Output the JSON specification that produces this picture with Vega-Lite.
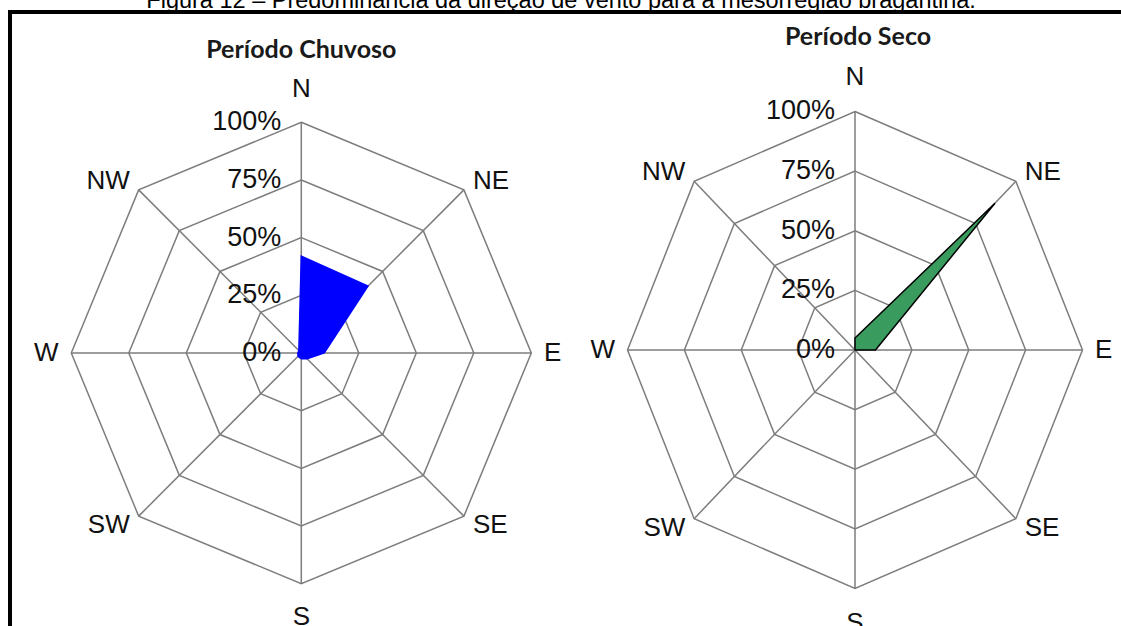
{
  "$schema": "https://vega.github.io/schema/vega-lite/v6.json",
  "width": 1111,
  "height": 614,
  "autosize": {"type": "none"},
  "padding": {"left": 10, "top": 12, "right": 0, "bottom": 0},
  "background": "white",
  "config": {"view": {"stroke": null}},
  "datasets": {
    "wind": [
      {"chart": "Chuvoso", "dir": "N", "i": 0, "pct": 42},
      {"chart": "Chuvoso", "dir": "NE", "i": 1, "pct": 41},
      {"chart": "Chuvoso", "dir": "E", "i": 2, "pct": 10},
      {"chart": "Chuvoso", "dir": "SE", "i": 3, "pct": 3.6},
      {"chart": "Chuvoso", "dir": "S", "i": 4, "pct": 2.5},
      {"chart": "Chuvoso", "dir": "SW", "i": 5, "pct": 2},
      {"chart": "Chuvoso", "dir": "W", "i": 6, "pct": 1.5},
      {"chart": "Chuvoso", "dir": "NW", "i": 7, "pct": 1.5},
      {"chart": "Seco", "dir": "N", "i": 0, "pct": 5},
      {"chart": "Seco", "dir": "NE", "i": 1, "pct": 87},
      {"chart": "Seco", "dir": "E", "i": 2, "pct": 9},
      {"chart": "Seco", "dir": "SE", "i": 3, "pct": 0},
      {"chart": "Seco", "dir": "S", "i": 4, "pct": 0},
      {"chart": "Seco", "dir": "SW", "i": 5, "pct": 0},
      {"chart": "Seco", "dir": "W", "i": 6, "pct": 0},
      {"chart": "Seco", "dir": "NW", "i": 7, "pct": 0}
    ],
    "rings": [
      {"chart": "Chuvoso", "ring": 25, "i": [0, 1, 2, 3, 4, 5, 6, 7]},
      {"chart": "Chuvoso", "ring": 50, "i": [0, 1, 2, 3, 4, 5, 6, 7]},
      {"chart": "Chuvoso", "ring": 75, "i": [0, 1, 2, 3, 4, 5, 6, 7]},
      {"chart": "Chuvoso", "ring": 100, "i": [0, 1, 2, 3, 4, 5, 6, 7]},
      {"chart": "Seco", "ring": 25, "i": [0, 1, 2, 3, 4, 5, 6, 7]},
      {"chart": "Seco", "ring": 50, "i": [0, 1, 2, 3, 4, 5, 6, 7]},
      {"chart": "Seco", "ring": 75, "i": [0, 1, 2, 3, 4, 5, 6, 7]},
      {"chart": "Seco", "ring": 100, "i": [0, 1, 2, 3, 4, 5, 6, 7]}
    ],
    "ticks": [
      {"chart": "Chuvoso", "ring": 0, "label": "0%"},
      {"chart": "Chuvoso", "ring": 25, "label": "25%"},
      {"chart": "Chuvoso", "ring": 50, "label": "50%"},
      {"chart": "Chuvoso", "ring": 75, "label": "75%"},
      {"chart": "Chuvoso", "ring": 100, "label": "100%"},
      {"chart": "Seco", "ring": 0, "label": "0%"},
      {"chart": "Seco", "ring": 25, "label": "25%"},
      {"chart": "Seco", "ring": 50, "label": "50%"},
      {"chart": "Seco", "ring": 75, "label": "75%"},
      {"chart": "Seco", "ring": 100, "label": "100%"}
    ],
    "titles": [
      {"chart": "Chuvoso", "title": "Período Chuvoso"},
      {"chart": "Seco", "title": "Período Seco"}
    ],
    "figure": [
      {"title": "Figura 12 – Predominância da direção de vento para a mesorregião bragantina."}
    ]
  },
  "encoding": {
    "x": {"field": "x", "type": "quantitative", "scale": {"domain": [0, 483.04], "nice": false, "zero": false}, "axis": null},
    "y": {"field": "y", "type": "quantitative", "scale": {"domain": [0, 266.96], "nice": false, "zero": false}, "axis": null}
  },
  "layer": [
    {
      "data": {"name": "rings"},
      "transform": [
        {"flatten": ["i"]},
        {"calculate": "datum.chart == 'Seco' ? 367.39 : 126.65", "as": "cx"},
        {"calculate": "datum.chart == 'Seco' ? 120.0 : 118.7", "as": "cy"},
        {"calculate": "datum.chart == 'Seco' ? 0.989 : 1.0", "as": "sx"},
        {"calculate": "datum.chart == 'Seco' ? 1.037 : 1.003", "as": "sy"},
        {"calculate": "datum.i * PI / 4", "as": "t"},
        {"calculate": "datum.cx + datum.ring * datum.sx * sin(datum.t)", "as": "x"},
        {"calculate": "datum.cy + datum.ring * datum.sy * cos(datum.t)", "as": "y"}
      ],
      "mark": {"type": "line", "interpolate": "linear-closed", "stroke": "#7d7d7d", "strokeWidth": 1.5},
      "encoding": {
        "detail": [{"field": "chart"}, {"field": "ring"}],
        "order": {"field": "i", "type": "quantitative"}
      }
    },
    {
      "data": {"name": "wind"},
      "transform": [
        {"calculate": "datum.chart == 'Seco' ? 367.39 : 126.65", "as": "cx"},
        {"calculate": "datum.chart == 'Seco' ? 120.0 : 118.7", "as": "cy"},
        {"calculate": "datum.chart == 'Seco' ? 0.989 : 1.0", "as": "sx"},
        {"calculate": "datum.chart == 'Seco' ? 1.037 : 1.003", "as": "sy"},
        {"calculate": "datum.i * PI / 4", "as": "t"},
        {"calculate": "datum.cx + 100 * datum.sx * sin(datum.t)", "as": "x"},
        {"calculate": "datum.cy + 100 * datum.sy * cos(datum.t)", "as": "y"}
      ],
      "mark": {"type": "rule", "stroke": "#7d7d7d", "strokeWidth": 1.5},
      "encoding": {
        "x": {"field": "cx", "type": "quantitative"},
        "y": {"field": "cy", "type": "quantitative"},
        "x2": {"field": "x"},
        "y2": {"field": "y"}
      }
    },
    {
      "data": {"name": "wind"},
      "transform": [
        {"filter": "datum.chart == 'Chuvoso'"},
        {"calculate": "126.65", "as": "cx"},
        {"calculate": "118.7", "as": "cy"},
        {"calculate": "datum.i * PI / 4", "as": "t"},
        {"calculate": "datum.cx + datum.pct * 1.0 * sin(datum.t)", "as": "x"},
        {"calculate": "datum.cy + datum.pct * 1.003 * cos(datum.t)", "as": "y"}
      ],
      "mark": {"type": "line", "interpolate": "linear-closed", "fill": "#0000ff", "fillOpacity": 1, "stroke": "#0000ff", "strokeWidth": 1.5},
      "encoding": {
        "order": {"field": "i", "type": "quantitative"}
      }
    },
    {
      "data": {"name": "wind"},
      "transform": [
        {"filter": "datum.chart == 'Seco'"},
        {"calculate": "367.39", "as": "cx"},
        {"calculate": "120.0", "as": "cy"},
        {"calculate": "datum.i * PI / 4", "as": "t"},
        {"calculate": "datum.cx + datum.pct * 0.989 * sin(datum.t)", "as": "x"},
        {"calculate": "datum.cy + datum.pct * 1.037 * cos(datum.t)", "as": "y"}
      ],
      "mark": {"type": "line", "interpolate": "linear-closed", "fill": "#3a9b5f", "fillOpacity": 1, "stroke": "#000000", "strokeWidth": 1.5},
      "encoding": {
        "order": {"field": "i", "type": "quantitative"}
      }
    },
    {
      "data": {"name": "ticks"},
      "transform": [
        {"calculate": "datum.chart == 'Seco' ? 367.39 : 126.65", "as": "cx"},
        {"calculate": "datum.chart == 'Seco' ? 120.0 : 118.7", "as": "cy"},
        {"calculate": "datum.chart == 'Seco' ? 1.037 : 1.003", "as": "sy"},
        {"calculate": "datum.cx", "as": "x"},
        {"calculate": "datum.cy + datum.ring * datum.sy", "as": "y"}
      ],
      "mark": {"type": "text", "align": "right", "baseline": "middle", "dx": -20, "font": "Liberation Sans", "fontSize": 27, "color": "#111111"},
      "encoding": {"text": {"field": "label"}}
    },
    {
      "data": {"name": "wind"},
      "transform": [
        {"filter": "datum.i == 0 || datum.i == 4"},
        {"calculate": "datum.chart == 'Seco' ? 367.39 : 126.65", "as": "cx"},
        {"calculate": "datum.chart == 'Seco' ? 120.0 : 118.7", "as": "cy"},
        {"calculate": "datum.chart == 'Seco' ? 0.989 : 1.0", "as": "sx"},
        {"calculate": "datum.chart == 'Seco' ? 1.037 : 1.003", "as": "sy"},
        {"calculate": "datum.i * PI / 4", "as": "t"},
        {"calculate": "datum.cx + 114.5 * datum.sx * sin(datum.t)", "as": "x"},
        {"calculate": "datum.cy + 114.5 * datum.sy * cos(datum.t)", "as": "y"}
      ],
      "mark": {"type": "text", "align": "center", "baseline": "middle", "font": "Liberation Sans", "fontSize": 26, "color": "#111111"},
      "encoding": {"text": {"field": "dir"}}
    },
    {
      "data": {"name": "wind"},
      "transform": [
        {"filter": "datum.i >= 1 && datum.i <= 3"},
        {"calculate": "datum.chart == 'Seco' ? 367.39 : 126.65", "as": "cx"},
        {"calculate": "datum.chart == 'Seco' ? 120.0 : 118.7", "as": "cy"},
        {"calculate": "datum.chart == 'Seco' ? 0.989 : 1.0", "as": "sx"},
        {"calculate": "datum.chart == 'Seco' ? 1.037 : 1.003", "as": "sy"},
        {"calculate": "datum.i * PI / 4", "as": "t"},
        {"calculate": "datum.cx + 105.5 * datum.sx * sin(datum.t)", "as": "x"},
        {"calculate": "datum.cy + 105.5 * datum.sy * cos(datum.t)", "as": "y"}
      ],
      "mark": {"type": "text", "align": "left", "baseline": "middle", "font": "Liberation Sans", "fontSize": 26, "color": "#111111"},
      "encoding": {"text": {"field": "dir"}}
    },
    {
      "data": {"name": "wind"},
      "transform": [
        {"filter": "datum.i >= 5"},
        {"calculate": "datum.chart == 'Seco' ? 367.39 : 126.65", "as": "cx"},
        {"calculate": "datum.chart == 'Seco' ? 120.0 : 118.7", "as": "cy"},
        {"calculate": "datum.chart == 'Seco' ? 0.989 : 1.0", "as": "sx"},
        {"calculate": "datum.chart == 'Seco' ? 1.037 : 1.003", "as": "sy"},
        {"calculate": "datum.i * PI / 4", "as": "t"},
        {"calculate": "datum.cx + 105.5 * datum.sx * sin(datum.t)", "as": "x"},
        {"calculate": "datum.cy + 105.5 * datum.sy * cos(datum.t)", "as": "y"}
      ],
      "mark": {"type": "text", "align": "right", "baseline": "middle", "font": "Liberation Sans", "fontSize": 26, "color": "#111111"},
      "encoding": {"text": {"field": "dir"}}
    },
    {
      "data": {"name": "titles"},
      "transform": [
        {"calculate": "datum.chart == 'Seco' ? 368.7 : 126.65", "as": "x"},
        {"calculate": "datum.chart == 'Seco' ? 120.0 + 128 * 1.037 : 118.7 + 128 * 1.003", "as": "y"}
      ],
      "mark": {"type": "text", "align": "center", "baseline": "alphabetic", "font": "Lato", "fontWeight": "bold", "fontSize": 25, "color": "#1a1a1a"},
      "encoding": {"text": {"field": "title"}}
    },
    {
      "data": {"name": "figure"},
      "transform": [
        {"calculate": "239.6", "as": "x"},
        {"calculate": "268.7", "as": "y"}
      ],
      "mark": {"type": "text", "align": "center", "baseline": "alphabetic", "font": "Liberation Sans", "fontSize": 23.5, "color": "#000000"},
      "encoding": {"text": {"field": "title"}}
    },
    {
      "data": {"values": [{"edge": "top"}]},
      "transform": [
        {"calculate": "0", "as": "x"},
        {"calculate": "483.04", "as": "x2"},
        {"calculate": "266.96", "as": "y"}
      ],
      "mark": {"type": "rule", "stroke": "#000000", "strokeWidth": 4, "strokeCap": "square"},
      "encoding": {
        "x2": {"field": "x2"}
      }
    },
    {
      "data": {"values": [{"edge": "left"}]},
      "transform": [
        {"calculate": "0", "as": "x"},
        {"calculate": "0", "as": "y"},
        {"calculate": "266.96", "as": "y2"}
      ],
      "mark": {"type": "rule", "stroke": "#000000", "strokeWidth": 4, "strokeCap": "square"},
      "encoding": {
        "y2": {"field": "y2"}
      }
    }
  ]
}
